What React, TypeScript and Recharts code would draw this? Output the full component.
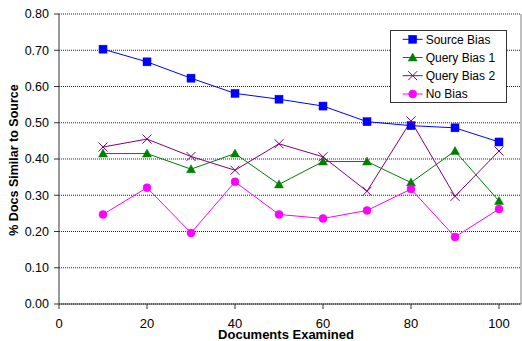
import React from 'react';
import { LineChart, Line, XAxis, YAxis, CartesianGrid, Legend, ReferenceLine } from 'recharts';

const docs = [10, 20, 30, 40, 50, 60, 70, 80, 90, 100];
const sourceBias = [0.703, 0.668, 0.623, 0.581, 0.565, 0.546, 0.503, 0.492, 0.486, 0.447];
const queryBias1 = [0.415, 0.415, 0.372, 0.415, 0.330, 0.393, 0.393, 0.335, 0.422, 0.284];
const queryBias2 = [0.433, 0.455, 0.407, 0.369, 0.442, 0.406, 0.311, 0.505, 0.297, 0.422];
const noBias = [0.247, 0.321, 0.196, 0.337, 0.247, 0.236, 0.258, 0.317, 0.185, 0.262];
const xTicks = [0, 20, 40, 60, 80, 100];
const yTicks = [0, 0.1, 0.2, 0.3, 0.4, 0.5, 0.6, 0.7, 0.8];
const seriesNames = ['Source Bias', 'Query Bias 1', 'Query Bias 2', 'No Bias'];
const seriesColors = ['#0000FF', '#008000', '#800080', '#FF00FF'];

const data = docs.map((d, i) => ({
  docs: d,
  s: sourceBias[i],
  q1: queryBias1[i],
  q2: queryBias2[i],
  n: noBias[i],
}));

const FONT = '"Liberation Sans", Arial, sans-serif';

function marker(kind: number, cx: number, cy: number, key?: string) {
  const c = seriesColors[kind];
  if (kind === 0) {
    return <rect key={key} x={cx - 4} y={cy - 4} width={8} height={8} fill={c} stroke={c} strokeWidth={0.5} />;
  }
  if (kind === 1) {
    return <path key={key} d={`M${cx},${cy - 4.5} L${cx + 4.5},${cy + 3.5} L${cx - 4.5},${cy + 3.5} Z`} fill={c} stroke={c} strokeWidth={0.5} />;
  }
  if (kind === 2) {
    return (
      <path key={key} d={`M${cx - 4.5},${cy - 4.5} L${cx + 4.5},${cy + 4.5} M${cx + 4.5},${cy - 4.5} L${cx - 4.5},${cy + 4.5}`} stroke={c} strokeWidth={1} fill="none" />
    );
  }
  return <circle key={key} cx={cx} cy={cy} r={4} fill={c} stroke={c} strokeWidth={0.5} />;
}

const makeDot = (kind: number) => (props: any) => {
  const { cx, cy, index } = props;
  if (cx == null || cy == null) return <g key={`e-${kind}-${index}`} />;
  return marker(kind, cx, cy, `m-${kind}-${index}`);
};

const LegendBox = () => {
  const rows = [9.3, 27.5, 45.7, 64];
  return (
    <svg width={117} height={73} style={{ display: 'block' }}>
      <rect x={0.5} y={0.5} width={116} height={72} fill="#fff" stroke="#333" strokeWidth={1} />
      {seriesNames.map((name, i) => (
        <g key={name}>
          <line x1={12.7} x2={32.7} y1={rows[i]} y2={rows[i]} stroke={seriesColors[i]} strokeWidth={1} />
          {marker(i, 22.7, rows[i])}
          <text x={35.7} y={rows[i] + 4.3} fontSize={12} fontFamily={FONT} fill="#000">
            {name}
          </text>
        </g>
      ))}
    </svg>
  );
};

const XLabel = () => {
  return (
    <text x={286} y={339} textAnchor="middle" fontSize={13} fontWeight="bold" fontFamily={FONT} fill="#000">
      Documents Examined
    </text>
  );
};

const YLabel = () => {
  return (
    <text x={17.5} y={160} transform="rotate(-90, 17.5, 160)" textAnchor="middle" fontSize={12.5} fontWeight="bold" fontFamily={FONT} fill="#000">
      % Docs Similar to Source
    </text>
  );
};

export default function App() {
  return (
    <div style={{ position: 'absolute', left: 0, top: 0, width: 522, height: 341, background: '#fff' }}>
      <LineChart width={522} height={341} data={data} margin={{ top: 14, right: 1, left: 0, bottom: 0 }}>
        <CartesianGrid vertical={false} stroke="#222" strokeDasharray="1 1" />
        <XAxis
          dataKey="docs"
          type="number"
          domain={[0, 105]}
          ticks={xTicks}
          height={37}
          tickSize={5}
          tickMargin={10}
          stroke="#333"
          tick={{ fontSize: 13, fontFamily: FONT, fill: '#000' }}
          label={<XLabel />}
          allowDataOverflow
        />
        <YAxis
          type="number"
          domain={[0, 0.8]}
          ticks={yTicks}
          width={59}
          tickSize={5}
          tickMargin={5}
          stroke="#333"
          tickFormatter={(v: number) => v.toFixed(2)}
          tick={{ fontSize: 12.5, fontFamily: FONT, fill: '#000' }}
          label={<YLabel />}
          allowDataOverflow
        />
        <ReferenceLine x={105} stroke="#808080" strokeWidth={1} ifOverflow="visible" />
        <Line dataKey="s" name={seriesNames[0]} stroke={seriesColors[0]} strokeWidth={1} dot={makeDot(0)} activeDot={false} isAnimationActive={false} />
        <Line dataKey="q1" name={seriesNames[1]} stroke={seriesColors[1]} strokeWidth={1} dot={makeDot(1)} activeDot={false} isAnimationActive={false} />
        <Line dataKey="q2" name={seriesNames[2]} stroke={seriesColors[2]} strokeWidth={1} dot={makeDot(2)} activeDot={false} isAnimationActive={false} />
        <Line dataKey="n" name={seriesNames[3]} stroke={seriesColors[3]} strokeWidth={1} dot={makeDot(3)} activeDot={false} isAnimationActive={false} />
        <Legend
          layout="vertical"
          align="center"
          verticalAlign="middle"
          content={() => <LegendBox />}
          wrapperStyle={{ position: 'absolute', left: 390, top: 30, width: 117, height: 73, margin: 0, padding: 0 }}
        />
      </LineChart>
    </div>
  );
}
